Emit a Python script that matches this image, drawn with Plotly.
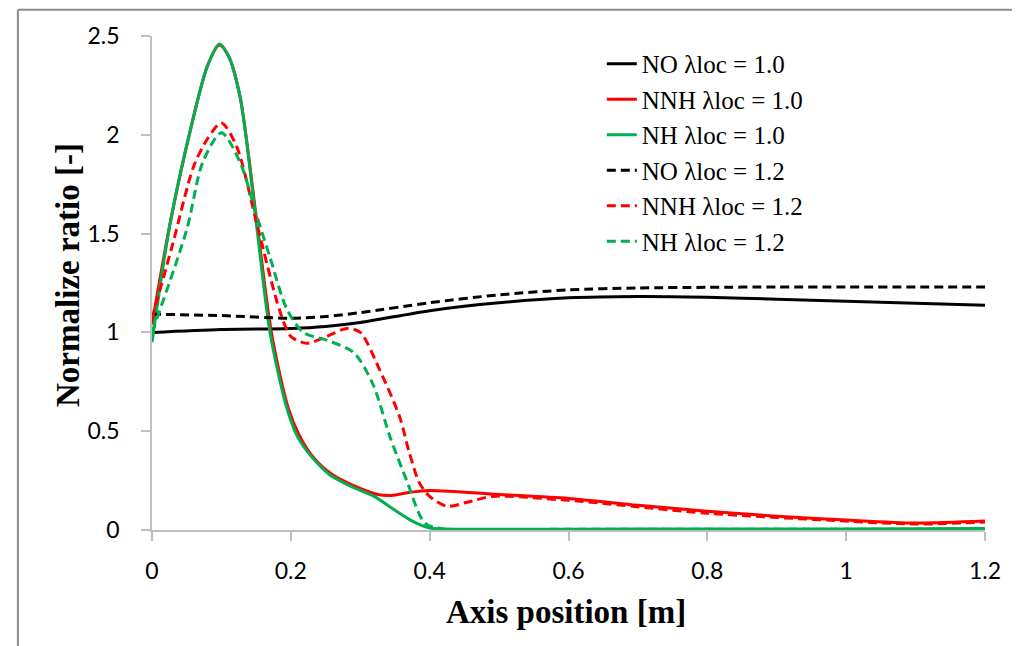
import plotly.graph_objects as go

# NO, lambda_loc = 1.0 / 1.2
x_no = [0, 0.1, 0.2, 0.25, 0.3, 0.4, 0.5, 0.6, 0.7, 0.8, 0.9, 1.0, 1.1, 1.2]
no_10 = [1.0, 1.015, 1.02, 1.03, 1.05, 1.11, 1.15, 1.175, 1.182, 1.178, 1.168, 1.158, 1.148, 1.138]
no_12 = [1.092, 1.085, 1.072, 1.08, 1.1, 1.15, 1.19, 1.215, 1.225, 1.228, 1.23, 1.23, 1.23, 1.23]

# NNH, lambda_loc = 1.0
x_nnh10 = [0, 0.026, 0.055, 0.08, 0.097, 0.11, 0.127, 0.152, 0.172, 0.196, 0.212, 0.232, 0.258,
           0.3, 0.325, 0.345, 0.37, 0.4, 0.5, 0.6, 0.7, 0.8, 0.9, 1.0, 1.1, 1.2]
nnh_10 = [1.04, 1.55, 2.02, 2.35, 2.455, 2.4, 2.19, 1.53, 1.0, 0.62, 0.48, 0.37, 0.285,
          0.21, 0.18, 0.175, 0.19, 0.2, 0.18, 0.16, 0.125, 0.095, 0.07, 0.05, 0.035, 0.045]

# NH, lambda_loc = 1.0
x_nh10 = [0, 0.026, 0.055, 0.08, 0.097, 0.11, 0.127, 0.151, 0.17, 0.194, 0.21, 0.23, 0.256,
          0.29, 0.32, 0.35, 0.375, 0.4, 0.45, 0.6, 0.8, 1.0, 1.2]
nh_10 = [0.95, 1.55, 2.02, 2.35, 2.46, 2.4, 2.19, 1.53, 1.0, 0.62, 0.47, 0.37, 0.28,
         0.215, 0.17, 0.1, 0.045, 0.01, 0.004, 0.004, 0.005, 0.005, 0.008]

# NNH, lambda_loc = 1.2
x_nnh12 = [0, 0.03, 0.06, 0.08, 0.1, 0.122, 0.151, 0.184, 0.2, 0.223, 0.252, 0.281,
           0.3, 0.328, 0.357, 0.37, 0.385, 0.4, 0.425, 0.454, 0.49, 0.6, 0.8, 1.0, 1.1, 1.2]
nnh_12 = [1.07, 1.45, 1.84, 1.98, 2.06, 1.94, 1.55, 1.11, 0.98, 0.945, 0.98, 1.02,
          1.0, 0.81, 0.57, 0.4, 0.24, 0.17, 0.12, 0.14, 0.17, 0.15, 0.085, 0.045, 0.03, 0.04]

# NH, lambda_loc = 1.2
x_nh12 = [0, 0.05, 0.073, 0.1, 0.127, 0.15, 0.17, 0.194, 0.218, 0.252, 0.29, 0.318, 0.343,
          0.367, 0.393, 0.42, 0.6, 0.8, 1.0, 1.2]
nh_12 = [1.0, 1.52, 1.86, 2.01, 1.86, 1.6, 1.38, 1.12, 1.0, 0.96, 0.9, 0.74, 0.47,
         0.25, 0.035, 0.005, 0.004, 0.004, 0.004, 0.004]

series = [
    ("NO λloc = 1.0", x_no, no_10, "#000000", "solid"),
    ("NNH λloc = 1.0", x_nnh10, nnh_10, "#FF0000", "solid"),
    ("NH λloc = 1.0", x_nh10, nh_10, "#00B050", "solid"),
    ("NO λloc = 1.2", x_no, no_12, "#000000", "9px,5px"),
    ("NNH λloc = 1.2", x_nnh12, nnh_12, "#FF0000", "9px,5px"),
    ("NH λloc = 1.2", x_nh12, nh_12, "#00B050", "9px,5px"),
]

fig = go.Figure()
for name, xs, ys, color, dash in series:
    fig.add_trace(go.Scatter(x=xs, y=ys, name=name, mode="lines",
                             line=dict(color=color, width=3, dash=dash,
                                       shape="spline", smoothing=0.8)))

axis_gray = "#BFBFBF"
tick_font = dict(family="Lato", size=23, color="#000000")
title_font = dict(family="Liberation Serif", size=33, color="#000000")

fig.update_xaxes(range=[0, 1.2], tickvals=[0, 0.2, 0.4, 0.6, 0.8, 1.0, 1.2],
                 ticktext=["0", "0.2", "0.4", "0.6", "0.8", "1", "1.2"],
                 showgrid=False, zeroline=False, showline=True, linecolor=axis_gray,
                 linewidth=1.5, ticks="outside", ticklen=9, tickcolor=axis_gray,
                 tickwidth=1.5, tickfont=tick_font, ticklabelstandoff=11)
fig.update_yaxes(range=[0, 2.5], tickvals=[0, 0.5, 1, 1.5, 2, 2.5],
                 ticktext=["0", "0.5", "1", "1.5", "2", "2.5"],
                 showgrid=False, zeroline=False, showline=True, linecolor=axis_gray,
                 linewidth=1.5, ticks="outside", ticklen=9, tickcolor=axis_gray,
                 tickwidth=1.5, tickfont=tick_font, ticklabelstandoff=17)

# page body has an 8px margin, so the figure is a little smaller than the window
fig.update_layout(
    width=1012, height=638,
    margin=dict(l=144, r=35, t=28, b=116),
    paper_bgcolor="white", plot_bgcolor="white",
    legend=dict(x=0.54, y=0.99, xanchor="left", yanchor="top",
                font=dict(family="Liberation Serif", size=25, color="#000000"),
                bgcolor="rgba(0,0,0,0)", tracegroupgap=0),
    annotations=[
        dict(text="<b>Axis position [m]</b>", xref="paper", yref="paper",
             x=0.497, y=-0.166, xanchor="center", yanchor="middle",
             showarrow=False, font=title_font),
        dict(text="<b>Normalize ratio [-]</b>", xref="paper", yref="paper",
             x=-0.101, y=0.516, xanchor="center", yanchor="middle", textangle=-90,
             showarrow=False, font=title_font),
    ],
    shapes=[
        dict(type="line", xref="paper", yref="paper", x0=-0.161, x1=1.05,
             y0=1.053, y1=1.053, line=dict(color="#8C8C8C", width=2)),
        dict(type="line", xref="paper", yref="paper", x0=-0.161, x1=-0.161,
             y0=1.053, y1=-0.25, line=dict(color="#8C8C8C", width=2)),
    ],
)

fig.write_html("out.html")
